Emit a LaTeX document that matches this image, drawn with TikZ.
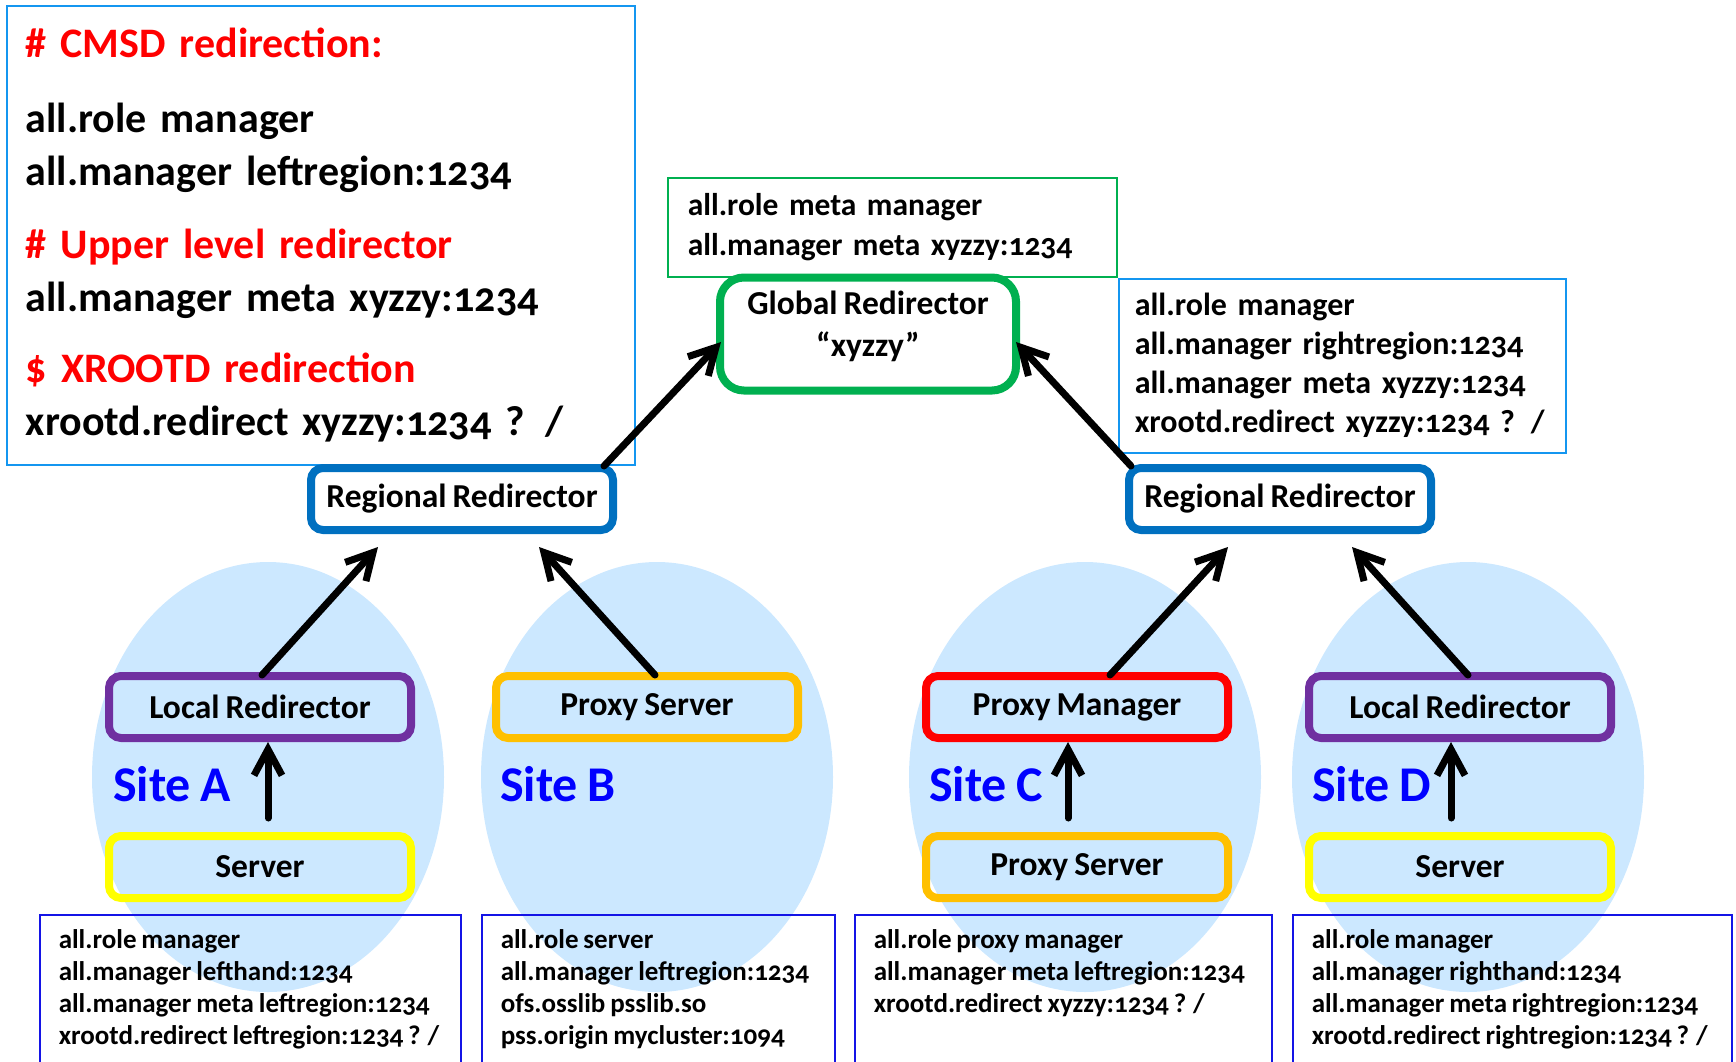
\documentclass[tikz,border=0pt]{standalone}
\usepackage{fontspec}
\setmainfont{Carlito}[Numbers=OldStyle, WordSpace=0.8]
\usepackage{tikz}
\usetikzlibrary{arrows.meta, calc}

\definecolor{SiteFill}{RGB}{204,232,255}
\definecolor{NoteSky}{RGB}{20,150,240}
\definecolor{NoteGreen}{RGB}{0,176,80}
\definecolor{HeadRed}{RGB}{255,0,0}
\definecolor{RegBlue}{RGB}{0,112,192}
\definecolor{LocPurple}{RGB}{112,48,160}
\definecolor{ProxOrange}{RGB}{255,192,0}
\definecolor{SrvYellow}{RGB}{255,255,0}
\definecolor{CfgBlue}{RGB}{20,20,230}
\definecolor{SiteBlue}{RGB}{0,0,255}

\tikzstyle{notebox} = [rectangle, line width=1.5pt, anchor=north west, align=left, inner xsep=19pt]
\tikzstyle{rolebox} = [rectangle, rounded corners=12pt, line width=8pt, minimum width=302pt, minimum height=62pt, align=center, font=\fontsize{33.5}{42}\selectfont\bfseries]
\tikzstyle{sitelabel} = [anchor=west, inner sep=0pt, text=SiteBlue, font=\fontsize{50}{54}\selectfont\bfseries]
\tikzstyle{cfgbox} = [rectangle, draw=CfgBlue, line width=1.5pt, anchor=north west, inner xsep=19pt, inner ysep=15pt, font=\fontsize{27}{32}\selectfont\bfseries]
\tikzstyle{arrow} = [line width=7pt, line cap=round, line join=round, -{Straight Barb[length=26pt, width=28pt]}]

\begin{document}
\begin{tikzpicture}[x=1pt, y=-1pt, font=\bfseries]
\useasboundingbox (0,0) rectangle (1736,1061);
\clip (0,0) rectangle (1736,1061);

% sites
\foreach \cx in {268,657,1085,1468}
  \fill[SiteFill] (\cx,777) ellipse [x radius=176pt, y radius=215pt];

% configuration notes on top
\node[notebox, draw=NoteSky, minimum width=628pt, minimum height=459pt, text width=590pt,
  font=\fontsize{42}{53}\selectfont\bfseries] (cmsd) at (6,5) {%
  \textcolor{HeadRed}{\# CMSD redirection:}\\[22pt]
  all.role manager\\
  all.manager leftregion:1234\\[20pt]
  \textcolor{HeadRed}{\# Upper level redirector}\\
  all.manager meta xyzzy:1234\\[18pt]
  \textcolor{HeadRed}{\$ XROOTD redirection}\\
  xrootd.redirect xyzzy:1234 ? /};
\node[notebox, draw=NoteGreen, minimum width=449pt, minimum height=99pt, text width=409pt, inner xsep=20pt,
  font=\fontsize{31.5}{40}\selectfont\bfseries] (metanote) at (667,177) {%
  all.role meta manager\\
  all.manager meta xyzzy:1234};
\node[notebox, draw=NoteSky, minimum width=446pt, minimum height=174pt, text width=415pt, inner xsep=16pt,
  font=\fontsize{32}{39}\selectfont\bfseries] (rightnote) at (1118,278) {%
  all.role manager\\
  all.manager rightregion:1234\\
  all.manager meta xyzzy:1234\\
  xrootd.redirect xyzzy:1234 ? /};

% redirectors
\node[rolebox, draw=NoteGreen, rounded corners=24pt, minimum width=296pt, minimum height=113pt, text depth=20pt] (global) at (868,334) {Global Redirector\\ “xyzzy”};
\node[rolebox, draw=RegBlue, fill=white] (regL) at (462,499) {Regional Redirector};
\node[rolebox, draw=RegBlue, fill=white] (regR) at (1280,499) {Regional Redirector};

% site boxes
\node[rolebox, draw=LocPurple] (locA) at (260,707) {Local Redirector};
\node[rolebox, draw=ProxOrange] (proxB) at (647,707) {Proxy Server};
\node[rolebox, draw=HeadRed] (pmC) at (1077,707) {Proxy Manager};
\node[rolebox, draw=LocPurple] (locD) at (1460,707) {Local Redirector};
\node[rolebox, draw=SrvYellow] (srvA) at (260,867) {Server};
\node[rolebox, draw=ProxOrange] (proxC) at (1077,867) {Proxy Server};
\node[rolebox, draw=SrvYellow] (srvD) at (1460,867) {Server};

\node[sitelabel] (siteA) at (113,784) {Site A};
\node[sitelabel] (siteB) at (500,784) {Site B};
\node[sitelabel] (siteC) at (929,784) {Site C};
\node[sitelabel] (siteD) at (1312,784) {Site D};

% per-site configuration
\node[cfgbox] (cfgA) at (39,914) {\parbox[t][160pt][t]{383pt}{%
  all.role manager\\ all.manager lefthand:1234\\ all.manager meta leftregion:1234\\ xrootd.redirect leftregion:1234 ? /}};
\node[cfgbox] (cfgB) at (481,914) {\parbox[t][160pt][t]{315pt}{%
  all.role server\\ all.manager leftregion:1234\\ ofs.osslib psslib.so\\ pss.origin mycluster:1094}};
\node[cfgbox] (cfgC) at (854,914) {\parbox[t][160pt][t]{379pt}{%
  all.role proxy manager\\ all.manager meta leftregion:1234\\ xrootd.redirect xyzzy:1234 ? /}};
\node[cfgbox] (cfgD) at (1292,914) {\parbox[t][160pt][t]{401pt}{%
  all.role manager\\ all.manager righthand:1234\\ all.manager meta rightregion:1234\\ xrootd.redirect rightregion:1234 ? /}};

% arrows
\draw[arrow] ($(srvA.north)+(8,-14)$) -- ($(locA.south)+(8,0)$);
\draw[arrow] ($(proxC.north)+(-9,-14)$) -- ($(pmC.south)+(-9,0)$);
\draw[arrow] ($(srvD.north)+(-9,-14)$) -- ($(locD.south)+(-9,0)$);
\draw[arrow] ($(locA.north)+(2,3)$) -- ($(regL.south)+(-84,13)$);
\draw[arrow] ($(proxB.north)+(8,3)$) -- ($(regL.south)+(77,13)$);
\draw[arrow] ($(pmC.north)+(33,3)$) -- ($(regR.south)+(-52,13)$);
\draw[arrow] ($(locD.north)+(8,3)$) -- ($(regR.south)+(72,13)$);
\draw[arrow] ($(regL.north east)+(-13,2)$) -- ($(global.west)+(5,8)$);
\draw[arrow] ($(regR.north west)+(6,2)$) -- ($(global.east)+(-4,8)$);
\end{tikzpicture}
\end{document}
